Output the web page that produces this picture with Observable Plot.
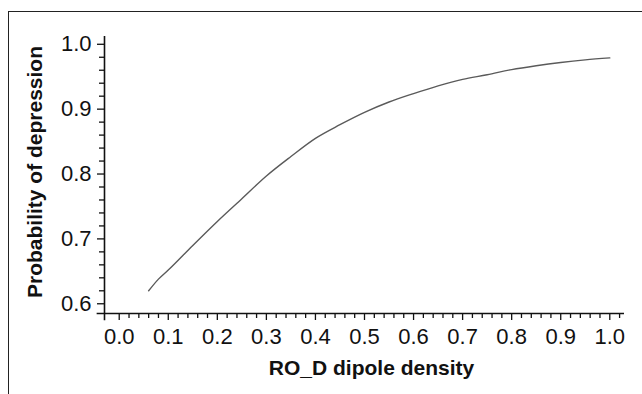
<!DOCTYPE html>
<html>
<head>
<meta charset="utf-8">
<script src="https://cdn.jsdelivr.net/npm/d3@7"></script>
<script src="https://cdn.jsdelivr.net/npm/@observablehq/plot@0.6"></script>
<style>
  html, body { margin: 0; padding: 0; background: #fff; }
  #wrap { position: relative; width: 642px; height: 394px; overflow: hidden; }
  #frame { position: absolute; left: 8px; top: 11px; width: 700px; height: 500px;
           border-top: 1.2px solid #222; border-left: 1.2px solid #222; }
  #chart { position: absolute; left: 0; top: 0; }
</style>
</head>
<body>
<div id="wrap"><div id="frame"></div><div id="chart"></div></div>
<script>
// Data
const density = [0.06, 0.08, 0.10, 0.15, 0.20, 0.25, 0.30, 0.35, 0.40, 0.45, 0.50,
                 0.55, 0.60, 0.65, 0.70, 0.75, 0.80, 0.85, 0.90, 0.95, 1.00];
const probability = [0.620, 0.638, 0.652, 0.690, 0.727, 0.762, 0.797, 0.827, 0.855, 0.876, 0.895,
                     0.911, 0.924, 0.936, 0.946, 0.953, 0.961, 0.967, 0.972, 0.976, 0.979];

const xTicks = [0.0, 0.1, 0.2, 0.3, 0.4, 0.5, 0.6, 0.7, 0.8, 0.9, 1.0];
const xTickLabels = ["0.0", "0.1", "0.2", "0.3", "0.4", "0.5", "0.6", "0.7", "0.8", "0.9", "1.0"];
const yTicks = [0.6, 0.7, 0.8, 0.9, 1.0];
const yTickLabels = ["0.6", "0.7", "0.8", "0.9", "1.0"];
const xMinor = d3.range(0, 52).map(i => +(i * 0.02).toFixed(2)).filter(v => Math.round(v * 100) % 10 !== 0);
const yMinor = d3.range(31, 51).map(i => +(i * 0.02).toFixed(2)).filter(v => Math.round(v * 100) % 10 !== 0);

const xTitle = "RO_D dipole density";
const yTitle = "Probability of depression";

const rows = density.map((d, i) => ({x: d, y: probability[i]}));
const font = "'Liberation Sans', Arial, Helvetica, sans-serif";

const chart = Plot.plot({
  width: 642,
  height: 394,
  marginLeft: 104,
  marginRight: 18,
  marginTop: 36,
  marginBottom: 81,
  style: {fontFamily: font, fontSize: "22px", background: "transparent", color: "#111"},
  x: {domain: [-0.03, 1.03]},
  y: {domain: [0.585, 1.012]},
  marks: [
    // minor ticks
    Plot.axisX(xMinor, {tickSize: 5, tickFormat: () => "", strokeWidth: 1.3, label: null}),
    Plot.axisY(yMinor, {tickSize: 5, tickFormat: () => "", strokeWidth: 1.3, label: null}),
    // major ticks with labels
    Plot.axisX(xTicks, {tickSize: 7, tickPadding: 8, strokeWidth: 1.3, fontSize: 22,
      tickFormat: (d, i) => xTickLabels[i], label: null}),
    Plot.axisY(yTicks, {tickSize: 7, tickPadding: 6, strokeWidth: 1.3, fontSize: 22,
      tickFormat: (d, i) => yTickLabels[i], label: null}),
    // axis lines (crossing slightly at the corner)
    Plot.ruleY([0.585], {x1: -0.045, x2: 1.03, stroke: "#111", strokeWidth: 1.6}),
    Plot.ruleX([-0.03], {y1: 0.574, y2: 1.012, stroke: "#111", strokeWidth: 1.6}),
    // curve
    Plot.line(rows, {x: "x", y: "y", stroke: "#5a5a5a", strokeWidth: 1.4, curve: "monotone-x"}),
    // titles
    Plot.text([xTitle], {frameAnchor: "bottom", dx: 7, dy: 61, lineAnchor: "bottom",
      fontSize: 21, fontWeight: "bold", fill: "#111"}),
    Plot.text([yTitle], {frameAnchor: "left", textAnchor: "middle", dx: -63, dy: -3, rotate: -90,
      lineAnchor: "bottom", fontSize: 21, fontWeight: "bold", fill: "#111"})
  ]
});
document.getElementById("chart").appendChild(chart);
</script>
</body>
</html>
